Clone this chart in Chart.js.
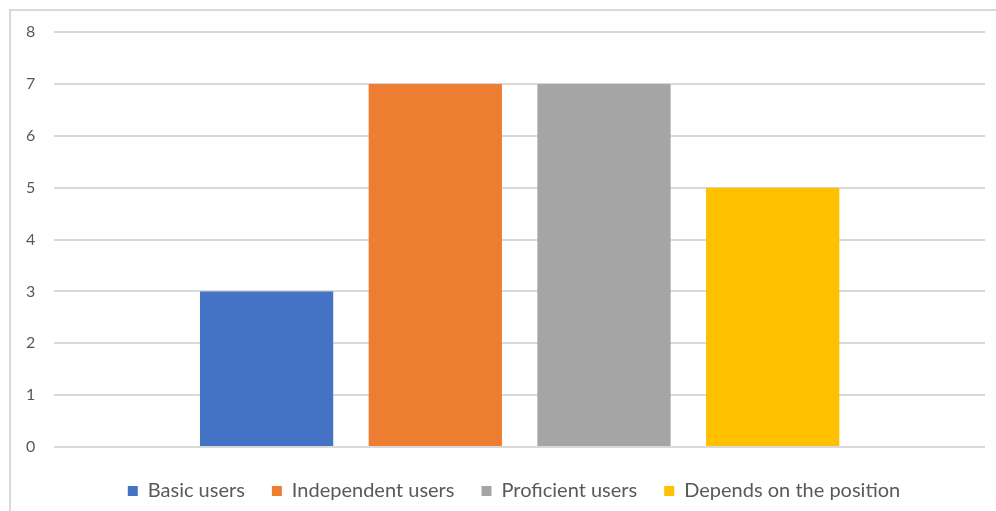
<!DOCTYPE html>
<html>
<head>
<meta charset="utf-8">
<script src="https://cdn.jsdelivr.net/npm/chart.js@4"></script>
<style>
  html, body { margin: 0; padding: 0; background: #fff; }
  .wrap { position: relative; width: 996px; height: 511px; }
  .frame { position: absolute; left: 9px; top: 9px; width: 1000px; height: 520px;
           border-left: 2px solid #d9d9d9; border-top: 2px solid #d9d9d9; box-sizing: border-box; }
  canvas { position: absolute; left: 0; top: 0; }
</style>
</head>
<body>
<div class="wrap">
  <div class="frame"></div>
  <canvas id="chart" width="996" height="511"></canvas>
</div>
<script>
const categories = [''];
const seriesNames = ['Basic users', 'Independent users', 'Proficient users', 'Depends on the position'];
const seriesValues = [3, 7, 7, 5];
const seriesColors = ['#4472C4', '#ED7D31', '#A5A5A5', '#FFC000'];
const yTicks = [0, 1, 2, 3, 4, 5, 6, 7, 8];

const datasets = seriesNames.map((name, i) => ({
    label: name,
    data: [seriesValues[i]],
    backgroundColor: seriesColors[i],
    borderWidth: 0,
    categoryPercentage: 0.725,
    barPercentage: 0.79
}));

// nudge the legend a bit right and down, like the original
const legendShift = {
    id: 'legendShift',
    afterLayout(chart) {
        const lg = chart.legend;
        lg.left += 18; lg.right += 18;
        lg.top += 7; lg.bottom += 7;
    }
};

const ctx = document.getElementById('chart');
new Chart(ctx, {
    type: 'bar',
    data: { labels: categories, datasets },
    plugins: [legendShift],
    options: {
        responsive: false,
        animation: false,
        layout: { padding: { left: 7, right: 11, top: 32, bottom: 7 } },
        plugins: {
            tooltip: { enabled: false },
            legend: {
                position: 'bottom',
                labels: {
                    boxWidth: 10,
                    boxHeight: 10,
                    padding: 27,
                    color: '#595959',
                    font: { family: 'Lato', size: 20 }
                }
            }
        },
        scales: {
            x: {
                grid: { display: false, drawTicks: false },
                border: { display: false },
                ticks: { display: false }
            },
            y: {
                min: 0,
                max: yTicks[yTicks.length - 1],
                afterBuildTicks: axis => { axis.ticks = yTicks.map(v => ({ value: v })); },
                grid: { color: '#d9d9d9', lineWidth: 2, drawTicks: false },
                border: { display: false },
                ticks: {
                    padding: 19,
                    color: '#595959',
                    font: { family: 'Lato', size: 16 }
                }
            }
        }
    }
});
</script>
</body>
</html>
